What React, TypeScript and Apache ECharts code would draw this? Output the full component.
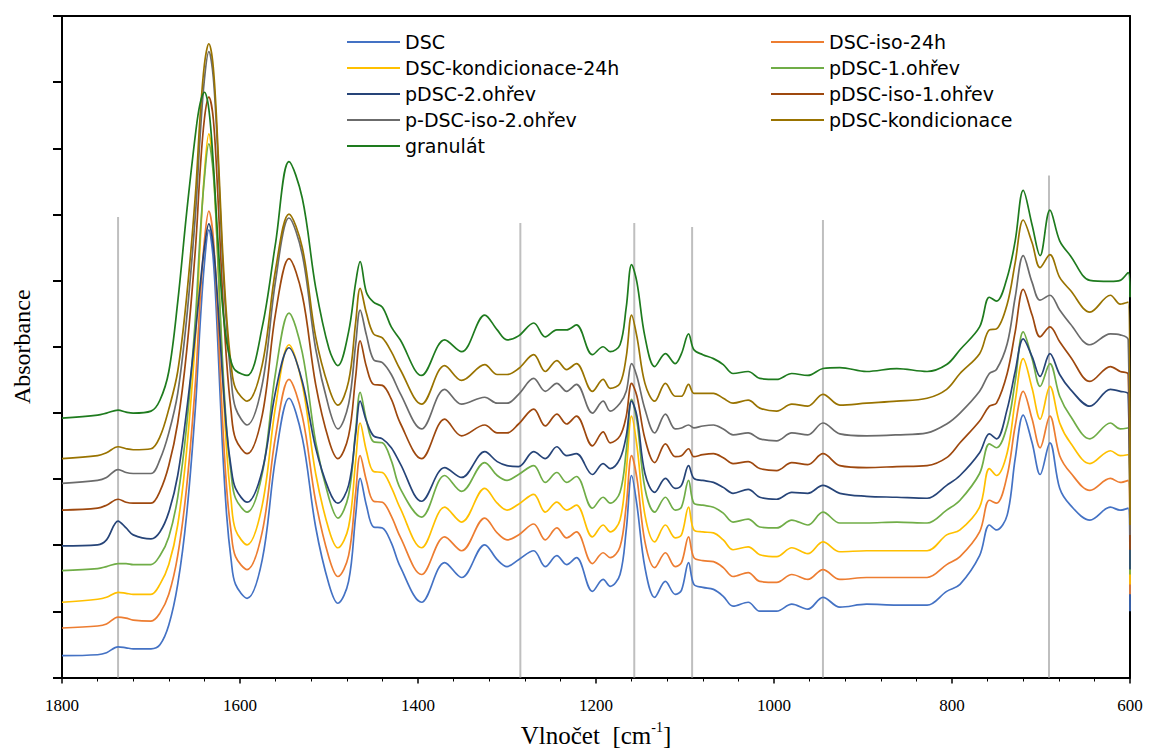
import { useEffect, useRef } from "react";
import * as echarts from "echarts";

// Wavenumbers (cm-1) at which the spectra were read
const wavenumbers = [
  1800, 1760, 1750, 1737, 1728, 1720, 1700, 1690, 1680, 1670,
  1660, 1650, 1645, 1640, 1635, 1630, 1625, 1620, 1615, 1610,
  1605, 1592, 1575, 1560, 1545, 1530, 1515, 1500, 1490, 1478,
  1470, 1465, 1458, 1450, 1440, 1430, 1420, 1396, 1370, 1351,
  1325, 1311, 1300, 1287, 1270, 1257, 1244, 1233, 1222, 1204,
  1192, 1184, 1173, 1166, 1160, 1154, 1145, 1134, 1122, 1111,
  1104, 1096, 1090, 1080, 1068, 1057, 1046, 1029, 1016, 997,
  980, 962, 945, 926, 896, 862, 828, 806, 791, 769,
  758, 750, 738, 729, 720, 710, 701, 690, 679, 667,
  645, 622, 611, 602, 600,
];

// Absorbance (arbitrary units, stacked with offsets)
const dsc = [
  22, 23, 25, 31, 30, 29, 29, 33, 53, 94,
  164, 274, 354, 418, 452, 422, 339, 239, 164, 119,
  94, 80, 119, 222, 282, 242, 152, 94, 75, 97,
  164, 201, 174, 152, 151, 136, 112, 76, 116, 101,
  134, 119, 112, 119, 128, 112, 123, 114, 121, 87,
  99, 92, 104, 149, 204, 174, 111, 81, 97, 84,
  88, 116, 94, 91, 89, 82, 72, 76, 67, 67,
  74, 69, 81, 71, 74, 73, 73, 87, 94, 123,
  154, 149, 164, 221, 265, 237, 205, 237, 191, 174,
  159, 172, 169, 171, 67,
];
const dscIso24h = [
  50, 52, 54, 61, 60, 58, 57, 65, 84, 123,
  192, 299, 379, 441, 471, 444, 364, 266, 191, 147,
  122, 109, 147, 244, 301, 264, 178, 121, 102, 123,
  187, 224, 199, 178, 177, 163, 142, 104, 142, 128,
  161, 146, 139, 144, 155, 139, 151, 141, 147, 115,
  126, 121, 132, 174, 224, 201, 137, 111, 126, 112,
  116, 142, 121, 118, 117, 111, 102, 106, 97, 96,
  104, 99, 109, 99, 101, 101, 101, 114, 122, 147,
  179, 176, 204, 254, 289, 261, 232, 264, 224, 207,
  189, 201, 197, 199, 84,
];
const dscKond24h = [
  76, 79, 81, 86, 85, 84, 84, 94, 114, 154,
  229, 344, 434, 509, 549, 514, 424, 314, 229, 179,
  149, 134, 174, 274, 336, 296, 206, 149, 131, 152,
  219, 257, 229, 208, 207, 192, 171, 131, 172, 157,
  191, 176, 169, 175, 185, 167, 177, 169, 174, 142,
  154, 147, 159, 209, 264, 234, 164, 137, 154, 141,
  144, 172, 149, 147, 146, 139, 129, 132, 124, 122,
  131, 125, 137, 127, 128, 128, 128, 144, 149, 172,
  211, 204, 227, 279, 322, 292, 261, 294, 257, 237,
  216, 229, 224, 225, 94,
];
const pdsc1 = [
  108, 110, 112, 115, 115, 114, 114, 123, 142, 182,
  254, 364, 444, 504, 539, 509, 426, 326, 251, 206,
  181, 167, 206, 308, 368, 328, 238, 181, 161, 184,
  250, 288, 260, 238, 237, 219, 191, 162, 204, 188,
  217, 204, 199, 205, 214, 197, 207, 197, 203, 171,
  182, 176, 187, 229, 281, 259, 191, 167, 182, 169,
  172, 199, 176, 174, 172, 166, 157, 160, 152, 151,
  159, 154, 167, 156, 156, 157, 156, 169, 179, 206,
  236, 232, 254, 299, 349, 322, 294, 317, 284, 264,
  241, 257, 251, 252, 104,
];
const pdsc2 = [
  133, 134, 139, 158, 151, 144, 140, 147, 167, 204,
  269, 349, 394, 434, 458, 436, 379, 309, 249, 212,
  191, 177, 209, 289, 333, 299, 232, 189, 176, 194,
  246, 279, 259, 244, 241, 232, 216, 178, 212, 202,
  228, 218, 214, 213, 228, 221, 233, 224, 226, 205,
  216, 211, 221, 244, 279, 264, 206, 187, 201, 191,
  194, 214, 201, 199, 197, 192, 186, 190, 182, 180,
  187, 186, 194, 186, 183, 182, 181, 194, 204, 227,
  246, 241, 271, 309, 342, 324, 304, 327, 306, 291,
  274, 291, 289, 286, 109,
];
const pdscIso1 = [
  169, 171, 174, 180, 177, 176, 176, 188, 214, 257,
  329, 434, 509, 564, 586, 564, 489, 394, 319, 269,
  241, 226, 265, 368, 423, 386, 296, 239, 221, 244,
  304, 340, 314, 296, 295, 281, 257, 221, 261, 244,
  255, 247, 247, 256, 271, 254, 266, 256, 264, 234,
  248, 237, 244, 264, 297, 284, 241, 217, 236, 223,
  224, 231, 223, 225, 226, 222, 216, 218, 211, 209,
  217, 215, 226, 214, 212, 213, 214, 222, 237, 259,
  274, 277, 307, 349, 392, 366, 344, 354, 339, 324,
  299, 314, 309, 306, 129,
];
const pdscIso2 = [
  196, 199, 202, 210, 207, 206, 206, 220, 247, 287,
  362, 469, 544, 604, 632, 606, 529, 429, 354, 302,
  272, 255, 296, 401, 464, 427, 332, 272, 251, 276,
  337, 371, 346, 321, 318, 306, 287, 251, 291, 276,
  283, 277, 277, 286, 302, 289, 297, 289, 296, 267,
  279, 269, 277, 289, 317, 304, 271, 247, 266, 251,
  252, 255, 252, 254, 255, 251, 245, 247, 241, 239,
  247, 245, 257, 246, 244, 245, 247, 256, 267, 289,
  307, 311, 337, 384, 426, 399, 381, 386, 371, 357,
  336, 347, 346, 341, 144,
];
const pdscKond = [
  221, 224, 227, 233, 231, 230, 231, 243, 271, 309,
  384, 489, 564, 619, 640, 616, 539, 439, 364, 316,
  292, 279, 316, 412, 468, 434, 344, 292, 275, 299,
  359, 393, 368, 347, 343, 329, 311, 276, 315, 300,
  316, 306, 306, 312, 326, 309, 320, 311, 317, 289,
  301, 292, 297, 324, 366, 344, 297, 279, 297, 284,
  284, 296, 287, 287, 287, 282, 277, 280, 272, 269,
  276, 274, 286, 275, 277, 279, 282, 291, 307, 327,
  351, 352, 377, 419, 462, 439, 414, 427, 404, 391,
  369, 386, 377, 379, 154,
];
const granulat = [
  262, 265, 267, 270, 268, 267, 269, 280, 309, 379,
  469, 549, 579, 591, 574, 519, 444, 379, 339, 319,
  310, 305, 354, 439, 521, 484, 394, 332, 315, 349,
  399, 420, 389, 379, 374, 354, 341, 305, 341, 329,
  366, 351, 341, 345, 358, 344, 351, 351, 356, 326,
  334, 329, 336, 374, 417, 399, 344, 314, 327, 317,
  327, 347, 331, 326, 322, 316, 307, 309, 302, 301,
  307, 305, 312, 313, 309, 312, 309, 316, 331, 354,
  384, 380, 404, 441, 492, 457, 426, 472, 441, 426,
  401, 400, 401, 409, 384,
];

const seriesNames = [
  "DSC",
  "DSC-iso-24h",
  "DSC-kondicionace-24h",
  "pDSC-1.ohřev",
  "pDSC-2.ohřev",
  "pDSC-iso-1.ohřev",
  "p-DSC-iso-2.ohřev",
  "pDSC-kondicionace",
  "granulát",
];
const seriesValues = [dsc, dscIso24h, dscKond24h, pdsc1, pdsc2, pdscIso1, pdscIso2, pdscKond, granulat];
const seriesColors = ["#4472C4", "#ED7D31", "#FFC000", "#70AD47", "#264478", "#9E480E", "#6B6B6B", "#997300", "#1E7B1E"];

// Reference band positions (cm-1) and heights of the grey marker lines
const markerPositions = [1737, 1285, 1157, 1092, 945, 691];
const markerHeights = [465, 459, 459, 455, 462, 507];

const leftLegend = [0, 2, 4, 6, 8].map((i) => seriesNames[i]);
const rightLegend = [1, 3, 5, 7].map((i) => seriesNames[i]);

const serif = "'Liberation Serif', 'Times New Roman', serif";
const sans = "'DejaVu Sans', Verdana, sans-serif";

export default function App() {
  const ref = useRef<HTMLDivElement>(null);

  useEffect(() => {
    if (!ref.current) return;
    const chart = echarts.init(ref.current, undefined, { renderer: "svg" });

    const markerSeries = markerPositions.map((p, i) => ({
      name: "marker" + i,
      type: "line",
      data: [
        [p, 0],
        [p, markerHeights[i]],
      ],
      symbol: "none",
      silent: true,
      z: 1,
      lineStyle: { color: "#BFBFBF", width: 2 },
    }));

    const spectra = seriesNames.map((name, si) => ({
      name,
      type: "line",
      data: wavenumbers.map((w, i) => [w, seriesValues[si][i]]),
      symbol: "none",
      showSymbol: false,
      smooth: 0.35,
      z: 2 + si,
      color: seriesColors[si],
      lineStyle: { color: seriesColors[si], width: 1.7 },
    }));

    const legendCommon = {
      orient: "vertical",
      top: 32,
      padding: 0,
      icon: "rect",
      itemWidth: 53,
      itemHeight: 2,
      itemGap: 6,
      selectedMode: false,
      textStyle: { fontFamily: sans, fontSize: 19, color: "#000", lineHeight: 20 },
    };

    const option = {
      animation: false,
      backgroundColor: "#ffffff",
      grid: { left: 62, right: 20, top: 16, bottom: 69 },
      legend: [
        { ...legendCommon, left: 347, data: leftLegend },
        { ...legendCommon, left: 771, data: rightLegend },
      ],
      xAxis: [
        {
          type: "value",
          min: 600,
          max: 1800,
          interval: 200,
          inverse: true,
          position: "bottom",
          axisLine: { onZero: false, lineStyle: { color: "#000", width: 2 } },
          axisTick: { show: true, length: 6, lineStyle: { color: "#000", width: 1.5 } },
          minorTick: { show: true, splitNumber: 5, length: 4, lineStyle: { color: "#000", width: 1 } },
          axisLabel: {
            fontFamily: serif,
            fontSize: 17,
            color: "#000",
            margin: 19,
            formatter: (v: number) => String(v),
          },
          splitLine: { show: false },
          name: "{a|Vlnočet  [cm}{s|-1}{a|]}",
          nameLocation: "middle",
          nameGap: 43,
          nameTextStyle: {
            rich: {
              a: { fontFamily: serif, fontSize: 25, color: "#000" },
              s: { fontFamily: serif, fontSize: 14, color: "#000", padding: [0, 0, 16, 0] },
            },
          },
        },
        {
          type: "value",
          min: 600,
          max: 1800,
          inverse: true,
          position: "top",
          axisLine: { onZero: false, lineStyle: { color: "#000", width: 2 } },
          axisTick: { show: false },
          axisLabel: { show: false },
          splitLine: { show: false },
        },
      ],
      yAxis: [
        {
          type: "value",
          min: 0,
          max: 668,
          interval: 66.8,
          axisLine: { show: true, onZero: false, lineStyle: { color: "#000", width: 2 } },
          axisTick: { show: true, length: 9, lineStyle: { color: "#000", width: 2 } },
          axisLabel: { show: false },
          splitLine: { show: false },
          name: "Absorbance",
          nameLocation: "middle",
          nameGap: 28,
          nameTextStyle: { fontFamily: serif, fontSize: 24, color: "#000" },
        },
        {
          type: "value",
          min: 0,
          max: 668,
          position: "right",
          axisLine: { show: true, onZero: false, lineStyle: { color: "#000", width: 2 } },
          axisTick: { show: false },
          axisLabel: { show: false },
          splitLine: { show: false },
        },
      ],
      series: [...markerSeries, ...spectra],
    };

    chart.setOption(option as any);
    return () => chart.dispose();
  }, []);

  return (
    <div
      ref={ref}
      style={{ position: "fixed", left: 0, top: 0, width: 1150, height: 753, background: "#fff" }}
    />
  );
}
